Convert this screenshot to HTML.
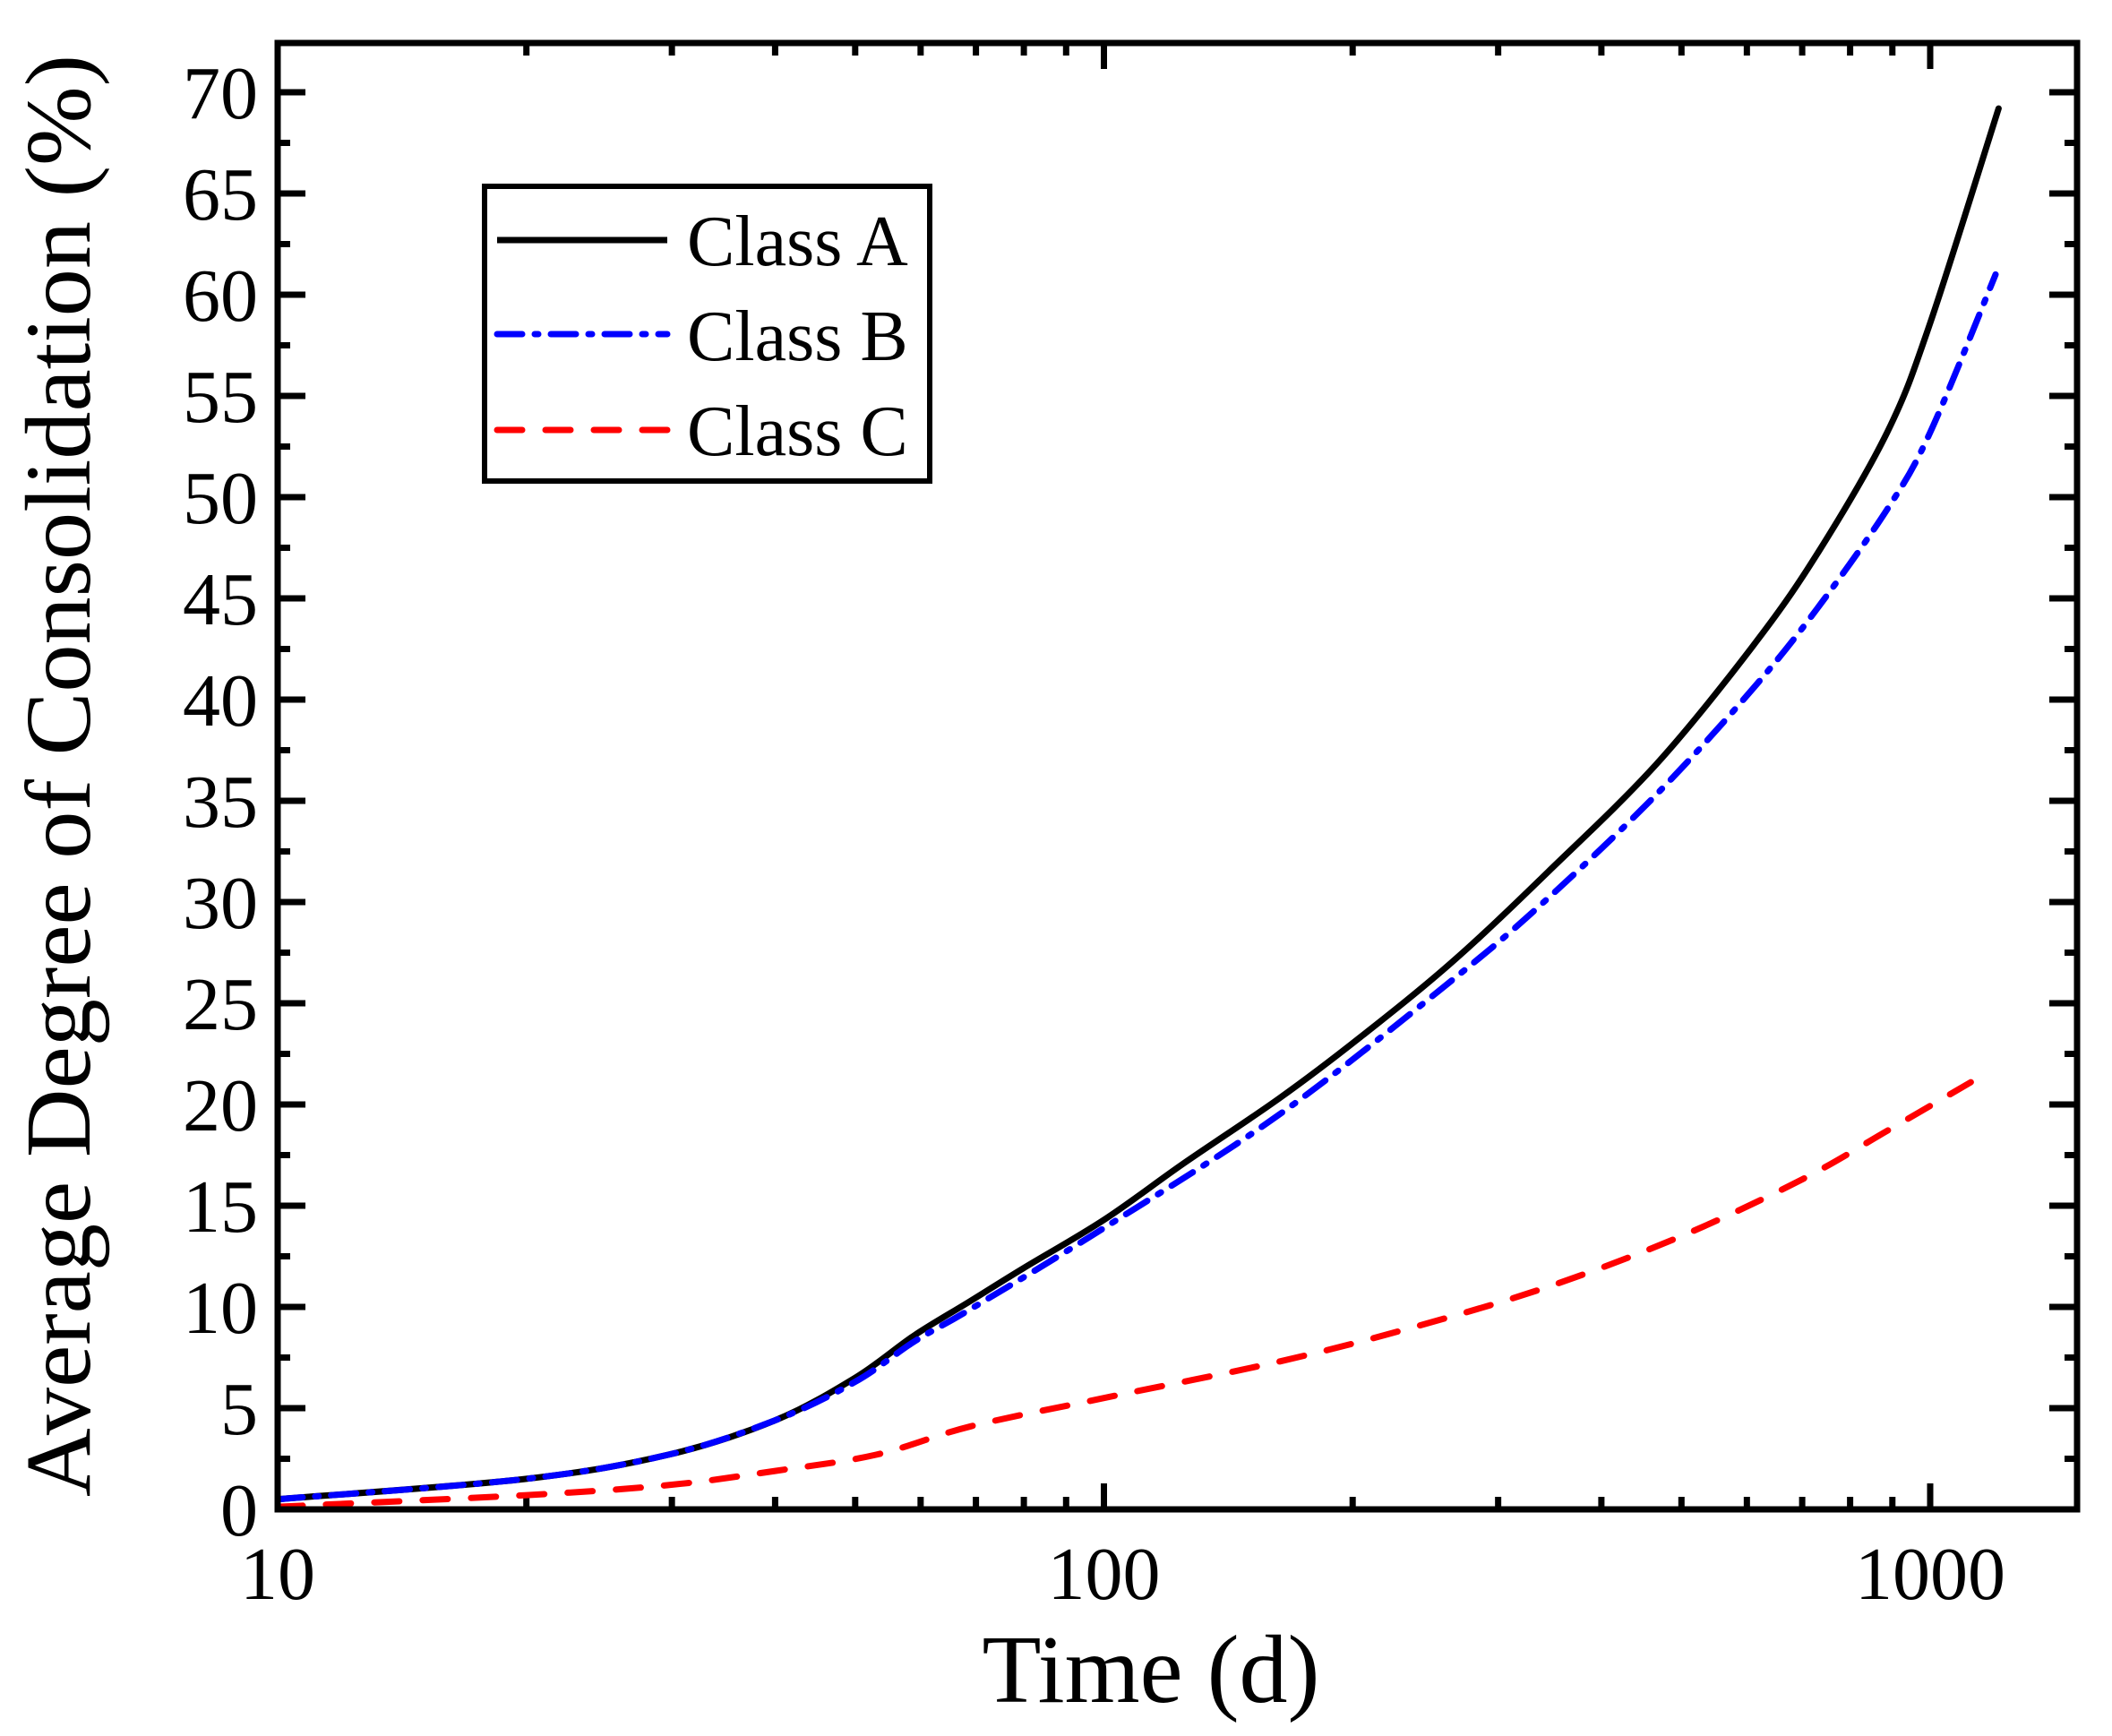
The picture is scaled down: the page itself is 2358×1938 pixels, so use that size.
<!DOCTYPE html>
<html><head><meta charset="utf-8"><style>
html,body{margin:0;padding:0;background:#fff;}
svg{display:block;}
text{font-family:"Liberation Serif","Times New Roman",serif;fill:#000;}
</style></head><body>
<svg id="s" width="2358" height="1938" viewBox="0 0 2358 1938" xmlns="http://www.w3.org/2000/svg">
<g id="ticks" stroke="#000" stroke-width="7"></g>
<g id="labels" font-size="84"></g>
<g id="series" fill="none" stroke-width="7" stroke-linecap="round" stroke-linejoin="round"></g>
<rect x="310" y="48" width="2009" height="1637" fill="none" stroke="#000" stroke-width="7"/>
<text x="1285" y="1900" font-size="108" text-anchor="middle">Time (d)</text>
<text transform="translate(100,866) rotate(-90)" font-size="104" text-anchor="middle" textLength="1610" lengthAdjust="spacingAndGlyphs">Average Degree of Consolidation (%)</text>
<rect x="541" y="208" width="497" height="329" fill="#fff" stroke="#000" stroke-width="6"/>
<line x1="555" y1="268" x2="745" y2="268" stroke="#000" stroke-width="7"/>
<line x1="555" y1="373" x2="745" y2="373" stroke="#0000ff" stroke-width="7" stroke-dasharray="28 14 4 14" stroke-linecap="round"/>
<line x1="555" y1="480" x2="745" y2="480" stroke="#ff0000" stroke-width="7" stroke-dasharray="28 26" stroke-linecap="round"/>
<g font-size="80">
<text x="767" y="296">Class A</text>
<text x="767" y="402">Class B</text>
<text x="767" y="508">Class C</text>
</g>
</svg>
<script>
var X=function(x){return 310+922.5*Math.log10(x/10);};
var Y=function(y){return 1685-22.6*y;};
var ns="http://www.w3.org/2000/svg";
function el(p,t,a,txt){var e=document.createElementNS(ns,t);for(var k in a)e.setAttribute(k,a[k]);if(txt!==undefined)e.textContent=txt;p.appendChild(e);return e;}
var tk=document.getElementById('ticks'),lb=document.getElementById('labels');
for(var v=0;v<=72;v+=2.5){var y=Y(v);var maj=(v%5===0);var L=maj?31:14;
 el(tk,'line',{x1:310,y1:y,x2:310+L,y2:y});el(tk,'line',{x1:2319,y1:y,x2:2319-L,y2:y});
 if(maj)el(lb,'text',{x:288,y:y+29,'text-anchor':'end'},String(v));}
[10,100,1000].forEach(function(d){for(var m=1;m<10;m++){var x=d*m;var px=X(x);if(px>2319)break;var maj=(m===1);var L=maj?29:14;
 el(tk,'line',{x1:px,y1:1685,x2:px,y2:1685-L});el(tk,'line',{x1:px,y1:48,x2:px,y2:48+L});
 if(maj)el(lb,'text',{x:px,y:1785,'text-anchor':'middle'},String(x));}});
var A=[[10,0.5],[19.9,1.5],[29.7,2.7],[40,4.4],[50,6.5],[59,8.6],[69,10.3],[79.8,11.9],[100,14.3],[125,17.1],[163,20.3],[204,23.3],[265,27.1],[345,31.5],[466,36.8],[609,42.6],[730,47.2],[887,53.2],[1000,58.6],[1210,69.2]];
var B=[[10,0.5],[19.9,1.5],[29.7,2.7],[40,4.4],[50,6.3],[59,8.3],[69,9.9],[100,13.9],[163,19.5],[265,26.2],[345,30.2],[466,35.3],[609,40.5],[730,44.5],[887,49.4],[1000,53.2],[1200,61]];
var C=[[10,0.13],[19.9,0.7],[29.7,1.2],[40,1.9],[53,2.7],[69,4.1],[100,5.5],[163,7.3],[237,9],[345,11],[500,13.5],[700,16.3],[887,18.7],[1120,21.1]];
function path(pts){var P=pts.map(function(p){return [X(p[0]),Y(p[1])];});
 var s='M'+P[0][0].toFixed(1)+' '+P[0][1].toFixed(1);
 for(var i=0;i<P.length-1;i++){var p0=P[Math.max(0,i-1)],p1=P[i],p2=P[i+1],p3=P[Math.min(P.length-1,i+2)];
  var c1x=p1[0]+(p2[0]-p0[0])/6,c1y=p1[1]+(p2[1]-p0[1])/6,c2x=p2[0]-(p3[0]-p1[0])/6,c2y=p2[1]-(p3[1]-p1[1])/6;
  s+='C'+c1x.toFixed(1)+' '+c1y.toFixed(1)+' '+c2x.toFixed(1)+' '+c2y.toFixed(1)+' '+p2[0].toFixed(1)+' '+p2[1].toFixed(1);}
 return s;}
var sg=document.getElementById('series');
el(sg,'path',{d:path(C),stroke:'#ff0000','stroke-dasharray':'28 26'});
el(sg,'path',{d:path(A),stroke:'#000'});
el(sg,'path',{d:path(B),stroke:'#0000ff','stroke-dasharray':'28 14 4 14'});
</script>
</body></html>
